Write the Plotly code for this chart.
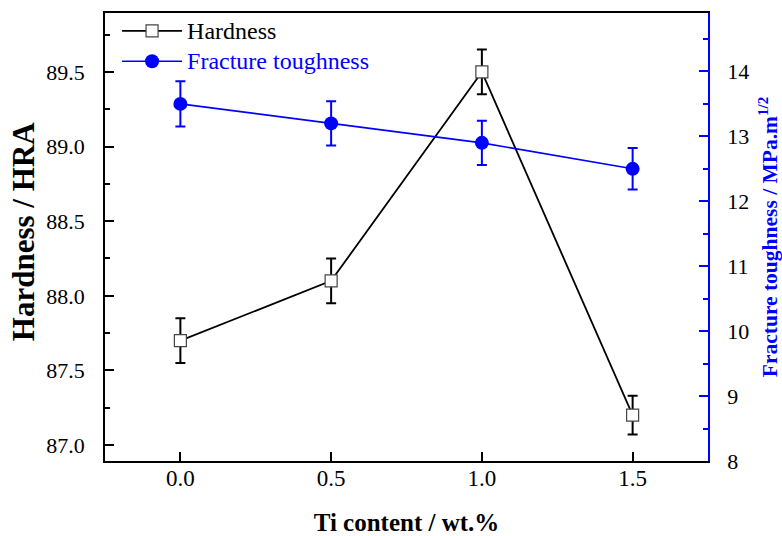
import plotly.graph_objects as go

# Ti content (wt.%)
ti_content = [0.0, 0.5, 1.0, 1.5]

# Hardness (HRA) with error
hardness = [87.7, 88.1, 89.5, 87.2]
hardness_err = [0.15, 0.15, 0.15, 0.13]

# Fracture toughness (MPa.m^1/2) with error
toughness = [13.5, 13.2, 12.9, 12.5]
toughness_err = [0.35, 0.34, 0.34, 0.32]

FONT = "Liberation Serif"
BLUE = "#0000ff"

fig = go.Figure()

fig.add_trace(go.Scatter(
    x=ti_content, y=hardness,
    mode="lines+markers",
    name="<span style='font-size:24px'>Hardness</span>",
    line=dict(color="black", width=1.8),
    marker=dict(symbol="square", size=12, color="white",
                line=dict(color="#444444", width=1.2)),
    error_y=dict(type="data", array=hardness_err, color="black",
                 thickness=2, width=5),
    yaxis="y",
))

fig.add_trace(go.Scatter(
    x=ti_content, y=toughness,
    mode="lines+markers",
    name=f"<span style='font-size:24px;color:{BLUE}'>Fracture toughness</span>",
    line=dict(color=BLUE, width=1.6),
    marker=dict(symbol="circle", size=14, color=BLUE),
    error_y=dict(type="data", array=toughness_err, color=BLUE,
                 thickness=2, width=5),
    yaxis="y2",
))

fig.update_layout(
    template="none",
    width=782, height=536,
    margin=dict(l=105, r=74, t=13, b=75, autoexpand=False),
    paper_bgcolor="white", plot_bgcolor="white",
    font=dict(family=FONT, size=22, color="black"),
    showlegend=True,
    legend=dict(
        x=0.02, y=1.005, xanchor="left", yanchor="top",
        bgcolor="rgba(0,0,0,0)", borderwidth=0,
        font=dict(family=FONT, size=21, color="black"),
        itemwidth=60, tracegroupgap=0,
    ),
    xaxis=dict(
        range=[-0.25, 1.75],
        tickvals=ti_content,
        ticktext=["0.0", "0.5", "1.0", "1.5"],
        ticks="inside", ticklen=9, tickwidth=1.5, tickcolor="black",
        ticklabelstandoff=-4,
        showline=True, linecolor="black", linewidth=1.5, mirror=True,
        showgrid=False, zeroline=False, automargin=False,
        tickfont=dict(family=FONT, size=23, color="black"),
        title=dict(text="<b>Ti content / wt.%</b>",
                   font=dict(family=FONT, size=25, color="black"),
                   standoff=53),
    ),
    yaxis=dict(
        range=[86.893, 89.895],
        tick0=87.0, dtick=0.5, tickformat=".1f",
        ticks="inside", ticklen=9, tickwidth=1.5, tickcolor="black",
        ticklabelstandoff=14,
        minor=dict(dtick=0.25, ticks="inside", ticklen=5,
                   tickcolor="black", tickwidth=1.5),
        showline=True, linecolor="black", linewidth=1.5,
        showgrid=False, zeroline=False, automargin=False,
        tickfont=dict(family=FONT, size=22, color="black"),
    ),
    yaxis2=dict(
        overlaying="y", side="right",
        range=[8.0, 14.9],
        tick0=8, dtick=1,
        ticks="inside", ticklen=9, tickwidth=1.5, tickcolor=BLUE,
        ticklabelstandoff=13,
        minor=dict(dtick=0.5, ticks="inside", ticklen=5,
                   tickcolor=BLUE, tickwidth=1.5),
        showline=True, linecolor=BLUE, linewidth=1.8,
        showgrid=False, zeroline=False, automargin=False,
        tickfont=dict(family=FONT, size=22, color="black"),
        title=dict(text="<b>Fracture toughness / MPa.m<sup>1/2</sup></b>",
                   font=dict(family=FONT, size=21.5, color=BLUE),
                   standoff=20),
    ),
    annotations=[dict(
        text="<b>Hardness / HRA</b>",
        xref="paper", yref="paper",
        x=-0.136, y=0.513, xanchor="center", yanchor="middle",
        textangle=-90, showarrow=False,
        font=dict(family=FONT, size=31, color="black"),
    )],
)

fig.write_html("out.html")
